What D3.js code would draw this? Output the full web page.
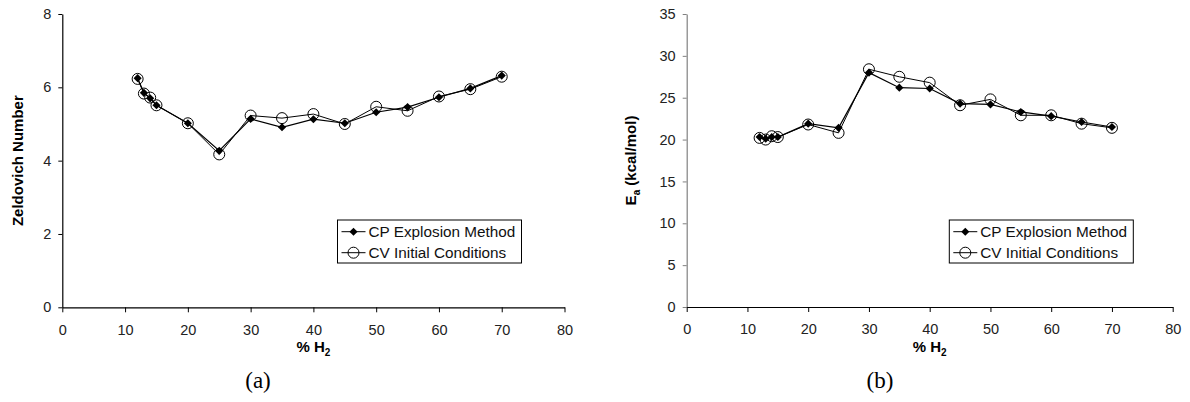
<!DOCTYPE html>
<html>
<head>
<meta charset="utf-8">
<script src="https://cdn.jsdelivr.net/npm/d3@7"></script>
<style>
  body { margin: 0; background: #fff; }
  svg { display: block; font-family: "Liberation Sans", Arial, sans-serif; }
</style>
</head>
<body>
<div id="chart"></div>
<script>
// % H2 of each mixture
var h2 = [12, 13, 14, 15, 20, 25, 30, 35, 40, 45, 50, 55, 60, 65, 70];

// (a) Zeldovich number
var zelCP = [6.25, 5.85, 5.70, 5.51, 5.02, 4.27, 5.14, 4.91, 5.13, 5.02, 5.32, 5.46, 5.73, 5.97, 6.32];
var zelCV = [6.23, 5.83, 5.72, 5.51, 5.02, 4.17, 5.23, 5.16, 5.27, 5.00, 5.47, 5.36, 5.75, 5.95, 6.29];

// (b) activation energy, kcal/mol
var eaCP = [20.3, 20.1, 20.3, 20.3, 21.9, 21.4, 28.0, 26.2, 26.1, 24.3, 24.2, 23.3, 22.8, 22.1, 21.5];
var eaCV = [20.2, 20.0, 20.4, 20.3, 21.8, 20.8, 28.4, 27.5, 26.8, 24.1, 24.8, 22.9, 22.9, 21.9, 21.4];

var xTicks = [0, 10, 20, 30, 40, 50, 60, 70, 80];
var zelTicks = [0, 2, 4, 6, 8];
var eaTicks = [0, 5, 10, 15, 20, 25, 30, 35];

var legendNames = ['CP Explosion Method', 'CV Initial Conditions'];

var W = 1190, H = 402;

var svg = d3.select('#chart').append('svg')
    .attr('width', W)
    .attr('height', H);

var diamond = d3.symbol().type(d3.symbolDiamond2).size(42);

function panel(opt) {
    var x = d3.scaleLinear().domain([0, 80]).range([opt.x0, opt.x1]);
    var y = d3.scaleLinear().domain([0, opt.ymax]).range([opt.y0, 14]);

    var g = svg.append('g');

    // y axis
    var ya = g.append('g')
        .attr('transform', 'translate(' + opt.x0 + ',0)')
        .call(d3.axisLeft(y).tickValues(opt.yticks).tickSize(4).tickPadding(7).tickSizeOuter(0));
    ya.select('.domain').attr('stroke', opt.yAxisColor).attr('stroke-width', 1.2);
    ya.selectAll('.tick line').attr('stroke', opt.yAxisColor);
    ya.selectAll('text').attr('font-size', '14.5px').attr('fill', '#222')
        .attr('font-family', '"Liberation Sans", Arial, sans-serif');

    // x axis
    var xa = g.append('g')
        .attr('transform', 'translate(0,' + opt.y0 + ')')
        .call(d3.axisBottom(x).tickValues(xTicks).tickSize(5).tickPadding(12).tickSizeOuter(0));
    xa.select('.domain').attr('stroke', '#000').attr('stroke-width', 1.2);
    xa.selectAll('text').attr('font-size', '14.5px').attr('fill', '#222')
        .attr('font-family', '"Liberation Sans", Arial, sans-serif');

    // x title
    var cx = (opt.x0 + opt.x1) / 2;
    var xt = g.append('text')
        .attr('x', cx)
        .attr('y', 352)
        .attr('text-anchor', 'middle')
        .attr('font-weight', 'bold')
        .attr('font-size', '15px');
    xt.append('tspan').text('% H');
    xt.append('tspan').attr('font-size', '10px').attr('dy', 4).text('2');

    // y title
    var yt = g.append('text')
        .attr('transform', 'translate(' + opt.ytx + ',' + ((opt.y0 + 14) / 2) + ') rotate(-90)')
        .attr('text-anchor', 'middle')
        .attr('font-weight', 'bold')
        .attr('font-size', '15px');
    if (opt.ytitle === 'Ea') {
        yt.append('tspan').text('E');
        yt.append('tspan').attr('font-size', '10px').attr('dy', 4).text('a');
        yt.append('tspan').attr('dy', -4).text(' (kcal/mol)');
    } else {
        yt.text(opt.ytitle);
    }

    var line = d3.line()
        .x(function(d) { return x(d[0]); })
        .y(function(d) { return y(d[1]); });

    var cv = d3.zip(h2, opt.cv), cp = d3.zip(h2, opt.cp);

    g.append('path').datum(cv).attr('d', line)
        .attr('fill', 'none').attr('stroke', '#000').attr('stroke-width', 1);
    g.append('path').datum(cp).attr('d', line)
        .attr('fill', 'none').attr('stroke', '#000').attr('stroke-width', 1.2);

    g.selectAll('.cv').data(cv).enter().append('circle')
        .attr('class', 'cv')
        .attr('cx', function(d) { return x(d[0]); })
        .attr('cy', function(d) { return y(d[1]); })
        .attr('r', 5.5)
        .attr('fill', 'none')
        .attr('stroke', '#000')
        .attr('stroke-width', 1);

    g.selectAll('.cp').data(cp).enter().append('path')
        .attr('class', 'cp')
        .attr('d', diamond)
        .attr('transform', function(d) { return 'translate(' + x(d[0]) + ',' + y(d[1]) + ')'; })
        .attr('fill', '#000');

    // legend
    var lg = g.append('g').attr('transform', 'translate(' + opt.lx + ',220)');
    lg.append('rect')
        .attr('width', 184).attr('height', 43)
        .attr('fill', '#fff').attr('stroke', '#000').attr('stroke-width', 1);
    legendNames.forEach(function(name, i) {
        var ry = 11.7 + i * 21;
        lg.append('line')
            .attr('x1', 4).attr('x2', 28).attr('y1', ry).attr('y2', ry)
            .attr('stroke', '#000');
        if (i === 0) {
            lg.append('path').attr('d', diamond)
                .attr('transform', 'translate(16,' + ry + ')').attr('fill', '#000');
        } else {
            lg.append('circle').attr('cx', 16).attr('cy', ry).attr('r', 5.5)
                .attr('fill', 'none').attr('stroke', '#000');
        }
        lg.append('text')
            .attr('x', 31).attr('y', ry)
            .attr('dy', '0.35em')
            .attr('font-size', '15.3px')
            .attr('fill', '#111')
            .text(name);
    });

    // caption
    svg.append('text')
        .attr('x', opt.capx)
        .attr('y', 388)
        .attr('text-anchor', 'middle')
        .attr('font-family', '"Liberation Serif", "Times New Roman", serif')
        .attr('font-size', '23px')
        .text(opt.caption);
}

panel({
    x0: 62.3, x1: 564.5, y0: 307.3, ymax: 8, yticks: zelTicks,
    cp: zelCP, cv: zelCV, yAxisColor: '#000',
    ytitle: 'Zeldovich Number', ytx: 23, lx: 337.5, capx: 258, caption: '(a)'
});

panel({
    x0: 686.7, x1: 1172.7, y0: 307, ymax: 35, yticks: eaTicks,
    cp: eaCP, cv: eaCV, yAxisColor: '#808080',
    ytitle: 'Ea', ytx: 636, lx: 949.3, capx: 880, caption: '(b)'
});
</script>
</body>
</html>
